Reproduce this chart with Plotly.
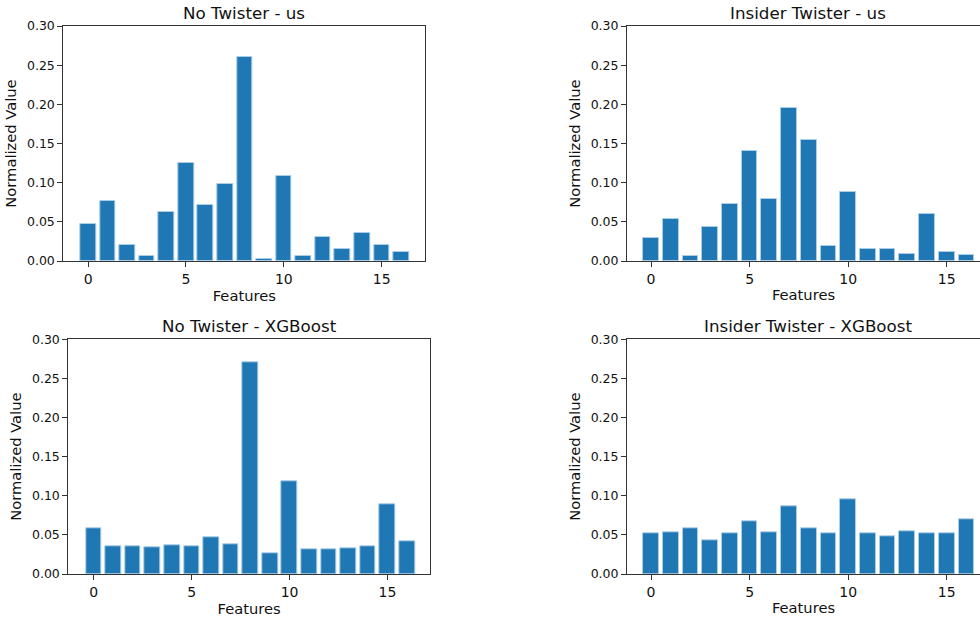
import plotly.graph_objects as go

# Normalized feature importances (17 features) for each model / setting
features = list(range(17))

no_twister_us = [0.047, 0.076, 0.020, 0.007, 0.063, 0.125, 0.071, 0.098, 0.260,
                 0.003, 0.109, 0.007, 0.031, 0.015, 0.036, 0.020, 0.012]
insider_twister_us = [0.030, 0.053, 0.007, 0.043, 0.073, 0.140, 0.079, 0.195, 0.154,
                      0.019, 0.088, 0.015, 0.015, 0.009, 0.060, 0.012, 0.008]
no_twister_xgb = [0.058, 0.035, 0.035, 0.034, 0.037, 0.036, 0.047, 0.038, 0.271,
                  0.026, 0.118, 0.031, 0.031, 0.033, 0.035, 0.089, 0.042]
insider_twister_xgb = [0.052, 0.053, 0.059, 0.043, 0.052, 0.068, 0.053, 0.086, 0.059,
                       0.052, 0.095, 0.052, 0.048, 0.055, 0.052, 0.052, 0.070]

titles = ["No Twister - us", "Insider Twister - us",
          "No Twister - XGBoost", "Insider Twister - XGBoost"]
series = [no_twister_us, insider_twister_us, no_twister_xgb, insider_twister_xgb]

W, H = 980, 618
BAR = "#1f77b4"
AX = "#333333"
TXT = "#111111"
FONT = "DejaVu Sans"

# panel rectangles in pixels: (left, right, top, bottom)
panels = [
    (63.3, 425.3, 26.0, 261.0),
    (627.0, 980.0, 26.0, 261.0),
    (68.3, 430.0, 339.3, 574.0),
    (627.0, 980.0, 339.3, 574.0),
]
xranges = [[-1.27, 17.23], [-1.22, 16.69], [-1.3, 17.17], [-1.22, 16.69]]

fig = go.Figure()
annotations = []
layout = {}
for i, (ttl, vals, (l, r, t, b), xr) in enumerate(zip(titles, series, panels, xranges)):
    n = "" if i == 0 else str(i + 1)
    xa, ya = "x" + n, "y" + n
    fig.add_trace(go.Bar(
        x=features, y=vals, width=0.8, xaxis=xa, yaxis=ya,
        marker=dict(color=BAR, line=dict(color="rgba(170,205,232,1)", width=1)),
        showlegend=False,
    ))
    right_col = i in (1, 3)
    layout["xaxis" + n] = dict(
        domain=[l / W, min(r / W, 1.0)], anchor=ya, range=xr, automargin=False,
        tickvals=[0, 5, 10, 15], ticks="outside", ticklen=5, tickwidth=1,
        tickcolor=AX, showline=True, linecolor=AX, linewidth=1, mirror=True,
        showgrid=False, zeroline=False,
        tickfont=dict(family=FONT, size=14, color=TXT),
        title=dict(text="Features", standoff=3,
                   font=dict(family=FONT, size=14.7, color=TXT)),
    )
    layout["yaxis" + n] = dict(
        domain=[1 - b / H, 1 - t / H], anchor=xa, range=[0, 0.30], automargin=False,
        tickvals=[0, 0.05, 0.10, 0.15, 0.20, 0.25, 0.30], tickformat=".2f",
        ticks="outside", ticklen=5, tickwidth=1, tickcolor=AX,
        showline=True, linecolor=AX, linewidth=1, mirror=not right_col,
        showgrid=False, zeroline=False,
        tickfont=dict(family=FONT, size=12.5, color=TXT),
        title=dict(text="Normalized Value", standoff=6,
                   font=dict(family=FONT, size=14.7, color=TXT)),
    )
    cx = (l + (r if not right_col else l + 362)) / 2 / W
    annotations.append(dict(
        text=ttl, x=cx, y=1 - t / H, xref="paper", yref="paper",
        xanchor="center", yanchor="bottom", yshift=1, showarrow=False,
        font=dict(family=FONT, size=16.7, color=TXT),
    ))

fig.update_layout(
    width=W, height=H, margin=dict(l=0, r=0, t=0, b=0, autoexpand=False),
    paper_bgcolor="white", plot_bgcolor="white",
    bargap=0, annotations=annotations, **layout,
)

fig.write_html("out.html")
